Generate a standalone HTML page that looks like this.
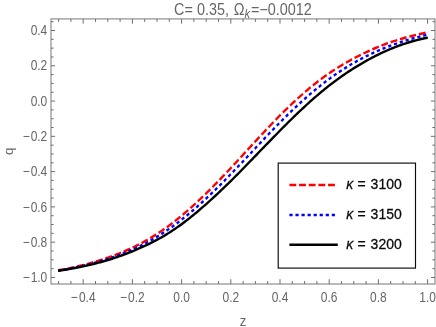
<!DOCTYPE html>
<html><head><meta charset="utf-8"><title>plot</title>
<style>
html,body{margin:0;padding:0;background:#fff;}
body{width:436px;height:327px;overflow:hidden;}
svg{display:block;font-family:"Liberation Sans",sans-serif;will-change:transform;transform:translateZ(0);}
</style></head><body>
<svg width="436" height="327" viewBox="0 0 436 327">
<g transform="scale(1 1.117)">
<g fill="none" stroke-linejoin="round" stroke-width="2.2">
<path d="M58.10 242.06 L59.79 241.78 L61.48 241.51 L63.16 241.22 L64.85 240.93 L66.54 240.63 L68.23 240.32 L69.92 240.01 L71.61 239.69 L73.29 239.36 L74.98 239.02 L76.67 238.67 L78.36 238.32 L80.05 237.96 L81.73 237.59 L83.42 237.21 L85.11 236.82 L86.80 236.43 L88.49 236.02 L90.17 235.61 L91.86 235.19 L93.55 234.75 L95.24 234.31 L96.93 233.86 L98.62 233.40 L100.30 232.92 L101.99 232.44 L103.68 231.95 L105.37 231.44 L107.06 230.93 L108.74 230.40 L110.43 229.87 L112.12 229.32 L113.81 228.76 L115.50 228.19 L117.18 227.60 L118.87 227.01 L120.56 226.40 L122.25 225.77 L123.94 225.14 L125.63 224.49 L127.31 223.82 L129.00 223.14 L130.69 222.45 L132.38 221.74 L134.07 221.02 L135.75 220.28 L137.44 219.52 L139.13 218.75 L140.82 217.95 L142.51 217.15 L144.19 216.32 L145.88 215.48 L147.57 214.61 L149.26 213.73 L150.95 212.83 L152.64 211.91 L154.32 210.97 L156.01 210.01 L157.70 209.04 L159.39 208.04 L161.08 207.02 L162.76 205.98 L164.45 204.93 L166.14 203.85 L167.83 202.76 L169.52 201.64 L171.20 200.51 L172.89 199.35 L174.58 198.18 L176.27 196.99 L177.96 195.78 L179.65 194.55 L181.33 193.31 L183.02 192.05 L184.71 190.77 L186.40 189.47 L188.09 188.16 L189.77 186.83 L191.46 185.48 L193.15 184.12 L194.84 182.74 L196.53 181.35 L198.21 179.94 L199.90 178.52 L201.59 177.09 L203.28 175.64 L204.97 174.17 L206.66 172.70 L208.34 171.21 L210.03 169.71 L211.72 168.19 L213.41 166.67 L215.10 165.13 L216.78 163.59 L218.47 162.03 L220.16 160.46 L221.85 158.89 L223.54 157.30 L225.22 155.71 L226.91 154.11 L228.60 152.50 L230.29 150.89 L231.98 149.27 L233.67 147.64 L235.35 146.01 L237.04 144.38 L238.73 142.74 L240.42 141.10 L242.11 139.46 L243.79 137.81 L245.48 136.16 L247.17 134.52 L248.86 132.87 L250.55 131.23 L252.23 129.59 L253.92 127.94 L255.61 126.31 L257.30 124.67 L258.99 123.04 L260.68 121.42 L262.36 119.80 L264.05 118.19 L265.74 116.58 L267.43 114.98 L269.12 113.39 L270.80 111.81 L272.49 110.23 L274.18 108.67 L275.87 107.12 L277.56 105.57 L279.24 104.04 L280.93 102.52 L282.62 101.01 L284.31 99.52 L286.00 98.04 L287.69 96.57 L289.37 95.11 L291.06 93.67 L292.75 92.25 L294.44 90.84 L296.13 89.44 L297.81 88.06 L299.50 86.70 L301.19 85.35 L302.88 84.02 L304.57 82.70 L306.25 81.41 L307.94 80.13 L309.63 78.86 L311.32 77.62 L313.01 76.39 L314.70 75.18 L316.38 73.99 L318.07 72.82 L319.76 71.67 L321.45 70.54 L323.14 69.42 L324.82 68.32 L326.51 67.25 L328.20 66.19 L329.89 65.15 L331.58 64.13 L333.26 63.13 L334.95 62.14 L336.64 61.18 L338.33 60.23 L340.02 59.30 L341.71 58.38 L343.39 57.48 L345.08 56.60 L346.77 55.73 L348.46 54.87 L350.15 54.03 L351.83 53.21 L353.52 52.39 L355.21 51.59 L356.90 50.80 L358.59 50.03 L360.27 49.27 L361.96 48.52 L363.65 47.78 L365.34 47.06 L367.03 46.35 L368.72 45.65 L370.40 44.96 L372.09 44.29 L373.78 43.63 L375.47 42.99 L377.16 42.36 L378.84 41.74 L380.53 41.14 L382.22 40.55 L383.91 39.98 L385.60 39.41 L387.28 38.87 L388.97 38.33 L390.66 37.81 L392.35 37.30 L394.04 36.80 L395.73 36.31 L397.41 35.84 L399.10 35.37 L400.79 34.92 L402.48 34.48 L404.17 34.05 L405.85 33.63 L407.54 33.21 L409.23 32.81 L410.92 32.42 L412.61 32.04 L414.29 31.66 L415.98 31.30 L417.67 30.94 L419.36 30.59 L421.05 30.25 L422.74 29.92 L424.42 29.59 L426.11 29.27 L427.80 28.96" stroke="#ff0000" stroke-dasharray="6.86 2.83"/>
<path d="M58.10 242.35 L59.79 242.10 L61.48 241.84 L63.16 241.57 L64.85 241.30 L66.54 241.02 L68.23 240.73 L69.92 240.44 L71.61 240.14 L73.29 239.83 L74.98 239.52 L76.67 239.20 L78.36 238.87 L80.05 238.53 L81.73 238.19 L83.42 237.83 L85.11 237.47 L86.80 237.10 L88.49 236.73 L90.17 236.34 L91.86 235.95 L93.55 235.54 L95.24 235.13 L96.93 234.71 L98.62 234.28 L100.30 233.84 L101.99 233.39 L103.68 232.93 L105.37 232.46 L107.06 231.99 L108.74 231.50 L110.43 231.00 L112.12 230.49 L113.81 229.97 L115.50 229.44 L117.18 228.89 L118.87 228.34 L120.56 227.77 L122.25 227.19 L123.94 226.60 L125.63 226.00 L127.31 225.38 L129.00 224.75 L130.69 224.10 L132.38 223.44 L134.07 222.77 L135.75 222.08 L137.44 221.37 L139.13 220.65 L140.82 219.91 L142.51 219.16 L144.19 218.39 L145.88 217.60 L147.57 216.80 L149.26 215.98 L150.95 215.13 L152.64 214.28 L154.32 213.40 L156.01 212.50 L157.70 211.59 L159.39 210.65 L161.08 209.70 L162.76 208.73 L164.45 207.74 L166.14 206.73 L167.83 205.70 L169.52 204.65 L171.20 203.59 L172.89 202.51 L174.58 201.40 L176.27 200.28 L177.96 199.15 L179.65 197.99 L181.33 196.82 L183.02 195.63 L184.71 194.42 L186.40 193.20 L188.09 191.96 L189.77 190.70 L191.46 189.43 L193.15 188.14 L194.84 186.84 L196.53 185.52 L198.21 184.19 L199.90 182.84 L201.59 181.47 L203.28 180.10 L204.97 178.71 L206.66 177.30 L208.34 175.88 L210.03 174.45 L211.72 173.01 L213.41 171.55 L215.10 170.09 L216.78 168.61 L218.47 167.12 L220.16 165.62 L221.85 164.10 L223.54 162.58 L225.22 161.05 L226.91 159.51 L228.60 157.96 L230.29 156.40 L231.98 154.84 L233.67 153.27 L235.35 151.69 L237.04 150.11 L238.73 148.52 L240.42 146.92 L242.11 145.32 L243.79 143.72 L245.48 142.12 L247.17 140.51 L248.86 138.90 L250.55 137.29 L252.23 135.68 L253.92 134.06 L255.61 132.45 L257.30 130.84 L258.99 129.24 L260.68 127.63 L262.36 126.03 L264.05 124.43 L265.74 122.84 L267.43 121.25 L269.12 119.66 L270.80 118.09 L272.49 116.52 L274.18 114.95 L275.87 113.40 L277.56 111.85 L279.24 110.31 L280.93 108.78 L282.62 107.26 L284.31 105.76 L286.00 104.26 L287.69 102.77 L289.37 101.30 L291.06 99.83 L292.75 98.38 L294.44 96.95 L296.13 95.52 L297.81 94.11 L299.50 92.71 L301.19 91.33 L302.88 89.96 L304.57 88.61 L306.25 87.27 L307.94 85.95 L309.63 84.64 L311.32 83.35 L313.01 82.08 L314.70 80.82 L316.38 79.57 L318.07 78.35 L319.76 77.13 L321.45 75.94 L323.14 74.76 L324.82 73.60 L326.51 72.46 L328.20 71.33 L329.89 70.22 L331.58 69.13 L333.26 68.05 L334.95 66.99 L336.64 65.95 L338.33 64.93 L340.02 63.92 L341.71 62.92 L343.39 61.95 L345.08 60.99 L346.77 60.05 L348.46 59.12 L350.15 58.21 L351.83 57.32 L353.52 56.44 L355.21 55.58 L356.90 54.73 L358.59 53.90 L360.27 53.08 L361.96 52.28 L363.65 51.50 L365.34 50.73 L367.03 49.97 L368.72 49.23 L370.40 48.50 L372.09 47.79 L373.78 47.09 L375.47 46.41 L377.16 45.74 L378.84 45.08 L380.53 44.44 L382.22 43.81 L383.91 43.19 L385.60 42.58 L387.28 41.99 L388.97 41.41 L390.66 40.84 L392.35 40.28 L394.04 39.74 L395.73 39.21 L397.41 38.68 L399.10 38.17 L400.79 37.67 L402.48 37.18 L404.17 36.70 L405.85 36.24 L407.54 35.78 L409.23 35.33 L410.92 34.89 L412.61 34.46 L414.29 34.04 L415.98 33.63 L417.67 33.23 L419.36 32.84 L421.05 32.45 L422.74 32.08 L424.42 31.71 L426.11 31.35 L427.80 31.00" stroke="#0000ff" stroke-dasharray="3.2 2.85"/>
<path d="M58.10 242.43 L59.79 242.20 L61.48 241.97 L63.16 241.73 L64.85 241.49 L66.54 241.24 L68.23 240.99 L69.92 240.73 L71.61 240.46 L73.29 240.18 L74.98 239.90 L76.67 239.61 L78.36 239.31 L80.05 239.01 L81.73 238.70 L83.42 238.38 L85.11 238.05 L86.80 237.72 L88.49 237.37 L90.17 237.02 L91.86 236.66 L93.55 236.29 L95.24 235.91 L96.93 235.53 L98.62 235.13 L100.30 234.72 L101.99 234.31 L103.68 233.88 L105.37 233.44 L107.06 233.00 L108.74 232.54 L110.43 232.07 L112.12 231.60 L113.81 231.11 L115.50 230.61 L117.18 230.10 L118.87 229.58 L120.56 229.05 L122.25 228.50 L123.94 227.95 L125.63 227.38 L127.31 226.81 L129.00 226.22 L130.69 225.62 L132.38 225.01 L134.07 224.39 L135.75 223.75 L137.44 223.11 L139.13 222.45 L140.82 221.78 L142.51 221.10 L144.19 220.41 L145.88 219.70 L147.57 218.98 L149.26 218.25 L150.95 217.50 L152.64 216.74 L154.32 215.96 L156.01 215.16 L157.70 214.35 L159.39 213.52 L161.08 212.67 L162.76 211.81 L164.45 210.92 L166.14 210.01 L167.83 209.08 L169.52 208.13 L171.20 207.16 L172.89 206.17 L174.58 205.15 L176.27 204.12 L177.96 203.06 L179.65 201.98 L181.33 200.88 L183.02 199.76 L184.71 198.62 L186.40 197.46 L188.09 196.29 L189.77 195.09 L191.46 193.88 L193.15 192.65 L194.84 191.41 L196.53 190.16 L198.21 188.88 L199.90 187.60 L201.59 186.30 L203.28 184.99 L204.97 183.67 L206.66 182.33 L208.34 180.98 L210.03 179.62 L211.72 178.25 L213.41 176.87 L215.10 175.48 L216.78 174.07 L218.47 172.66 L220.16 171.23 L221.85 169.79 L223.54 168.35 L225.22 166.89 L226.91 165.43 L228.60 163.95 L230.29 162.47 L231.98 160.97 L233.67 159.47 L235.35 157.97 L237.04 156.45 L238.73 154.93 L240.42 153.40 L242.11 151.86 L243.79 150.32 L245.48 148.77 L247.17 147.22 L248.86 145.67 L250.55 144.11 L252.23 142.55 L253.92 140.98 L255.61 139.42 L257.30 137.85 L258.99 136.28 L260.68 134.71 L262.36 133.14 L264.05 131.58 L265.74 130.01 L267.43 128.45 L269.12 126.88 L270.80 125.32 L272.49 123.77 L274.18 122.22 L275.87 120.67 L277.56 119.13 L279.24 117.59 L280.93 116.06 L282.62 114.53 L284.31 113.02 L286.00 111.51 L287.69 110.00 L289.37 108.51 L291.06 107.03 L292.75 105.55 L294.44 104.08 L296.13 102.63 L297.81 101.18 L299.50 99.74 L301.19 98.32 L302.88 96.91 L304.57 95.51 L306.25 94.12 L307.94 92.74 L309.63 91.38 L311.32 90.03 L313.01 88.69 L314.70 87.37 L316.38 86.06 L318.07 84.76 L319.76 83.48 L321.45 82.22 L323.14 80.97 L324.82 79.73 L326.51 78.51 L328.20 77.31 L329.89 76.12 L331.58 74.95 L333.26 73.80 L334.95 72.66 L336.64 71.54 L338.33 70.44 L340.02 69.35 L341.71 68.28 L343.39 67.23 L345.08 66.19 L346.77 65.17 L348.46 64.17 L350.15 63.18 L351.83 62.21 L353.52 61.25 L355.21 60.31 L356.90 59.38 L358.59 58.47 L360.27 57.57 L361.96 56.69 L363.65 55.82 L365.34 54.96 L367.03 54.11 L368.72 53.28 L370.40 52.47 L372.09 51.66 L373.78 50.88 L375.47 50.10 L377.16 49.34 L378.84 48.60 L380.53 47.86 L382.22 47.15 L383.91 46.45 L385.60 45.76 L387.28 45.09 L388.97 44.44 L390.66 43.80 L392.35 43.18 L394.04 42.58 L395.73 41.99 L397.41 41.41 L399.10 40.85 L400.79 40.31 L402.48 39.79 L404.17 39.27 L405.85 38.78 L407.54 38.30 L409.23 37.83 L410.92 37.38 L412.61 36.94 L414.29 36.52 L415.98 36.11 L417.67 35.72 L419.36 35.34 L421.05 34.98 L422.74 34.63 L424.42 34.29 L426.11 33.96 L427.80 33.65" stroke="#000"/>
</g>
</g>
<g stroke="#6e6e6e" stroke-width="1" fill="none">
<rect x="51.0" y="18.9" width="384.0" height="265.1" stroke="#8a8a8a" stroke-width="1.15"/>
<path d="M58.60 284.0 V281.00 M58.60 18.9 V21.90"/>
<path d="M70.90 284.0 V281.00 M70.90 18.9 V21.90"/>
<path d="M83.20 284.0 V279.20 M83.20 18.9 V23.70"/>
<path d="M95.50 284.0 V281.00 M95.50 18.9 V21.90"/>
<path d="M107.80 284.0 V281.00 M107.80 18.9 V21.90"/>
<path d="M120.10 284.0 V281.00 M120.10 18.9 V21.90"/>
<path d="M132.40 284.0 V279.20 M132.40 18.9 V23.70"/>
<path d="M144.70 284.0 V281.00 M144.70 18.9 V21.90"/>
<path d="M157.00 284.0 V281.00 M157.00 18.9 V21.90"/>
<path d="M169.30 284.0 V281.00 M169.30 18.9 V21.90"/>
<path d="M181.60 284.0 V279.20 M181.60 18.9 V23.70"/>
<path d="M193.90 284.0 V281.00 M193.90 18.9 V21.90"/>
<path d="M206.20 284.0 V281.00 M206.20 18.9 V21.90"/>
<path d="M218.50 284.0 V281.00 M218.50 18.9 V21.90"/>
<path d="M230.80 284.0 V279.20 M230.80 18.9 V23.70"/>
<path d="M243.10 284.0 V281.00 M243.10 18.9 V21.90"/>
<path d="M255.40 284.0 V281.00 M255.40 18.9 V21.90"/>
<path d="M267.70 284.0 V281.00 M267.70 18.9 V21.90"/>
<path d="M280.00 284.0 V279.20 M280.00 18.9 V23.70"/>
<path d="M292.30 284.0 V281.00 M292.30 18.9 V21.90"/>
<path d="M304.60 284.0 V281.00 M304.60 18.9 V21.90"/>
<path d="M316.90 284.0 V281.00 M316.90 18.9 V21.90"/>
<path d="M329.20 284.0 V279.20 M329.20 18.9 V23.70"/>
<path d="M341.50 284.0 V281.00 M341.50 18.9 V21.90"/>
<path d="M353.80 284.0 V281.00 M353.80 18.9 V21.90"/>
<path d="M366.10 284.0 V281.00 M366.10 18.9 V21.90"/>
<path d="M378.40 284.0 V279.20 M378.40 18.9 V23.70"/>
<path d="M390.70 284.0 V281.00 M390.70 18.9 V21.90"/>
<path d="M403.00 284.0 V281.00 M403.00 18.9 V21.90"/>
<path d="M415.30 284.0 V281.00 M415.30 18.9 V21.90"/>
<path d="M427.60 284.0 V279.20 M427.60 18.9 V23.70"/>
<path d="M51.0 277.46 H55.10 M435.0 277.46 H430.90"/>
<path d="M51.0 268.64 H53.60 M435.0 268.64 H432.40"/>
<path d="M51.0 259.82 H53.60 M435.0 259.82 H432.40"/>
<path d="M51.0 251.00 H53.60 M435.0 251.00 H432.40"/>
<path d="M51.0 242.18 H55.10 M435.0 242.18 H430.90"/>
<path d="M51.0 233.36 H53.60 M435.0 233.36 H432.40"/>
<path d="M51.0 224.54 H53.60 M435.0 224.54 H432.40"/>
<path d="M51.0 215.72 H53.60 M435.0 215.72 H432.40"/>
<path d="M51.0 206.90 H55.10 M435.0 206.90 H430.90"/>
<path d="M51.0 198.08 H53.60 M435.0 198.08 H432.40"/>
<path d="M51.0 189.26 H53.60 M435.0 189.26 H432.40"/>
<path d="M51.0 180.44 H53.60 M435.0 180.44 H432.40"/>
<path d="M51.0 171.62 H55.10 M435.0 171.62 H430.90"/>
<path d="M51.0 162.80 H53.60 M435.0 162.80 H432.40"/>
<path d="M51.0 153.98 H53.60 M435.0 153.98 H432.40"/>
<path d="M51.0 145.16 H53.60 M435.0 145.16 H432.40"/>
<path d="M51.0 136.34 H55.10 M435.0 136.34 H430.90"/>
<path d="M51.0 127.52 H53.60 M435.0 127.52 H432.40"/>
<path d="M51.0 118.70 H53.60 M435.0 118.70 H432.40"/>
<path d="M51.0 109.88 H53.60 M435.0 109.88 H432.40"/>
<path d="M51.0 101.06 H55.10 M435.0 101.06 H430.90"/>
<path d="M51.0 92.24 H53.60 M435.0 92.24 H432.40"/>
<path d="M51.0 83.42 H53.60 M435.0 83.42 H432.40"/>
<path d="M51.0 74.60 H53.60 M435.0 74.60 H432.40"/>
<path d="M51.0 65.78 H55.10 M435.0 65.78 H430.90"/>
<path d="M51.0 56.96 H53.60 M435.0 56.96 H432.40"/>
<path d="M51.0 48.14 H53.60 M435.0 48.14 H432.40"/>
<path d="M51.0 39.32 H53.60 M435.0 39.32 H432.40"/>
<path d="M51.0 30.50 H55.10 M435.0 30.50 H430.90"/>
<path d="M51.0 21.68 H53.60 M435.0 21.68 H432.40"/>
</g>
<rect x="278.2" y="163.1" width="137.3" height="105" fill="#fff" stroke="#0a0a0a" stroke-width="1.15"/>
<g transform="scale(1 1.117)">
<g fill="#666">
<text transform="translate(83.20 270.37) scale(1 1.07)" font-size="12.0" text-anchor="middle">−<tspan dx="1">0.4</tspan></text>
<text transform="translate(132.40 270.37) scale(1 1.07)" font-size="12.0" text-anchor="middle">−<tspan dx="1">0.2</tspan></text>
<text transform="translate(181.60 270.37) scale(1 1.07)" font-size="12.0" text-anchor="middle">0.0</text>
<text transform="translate(230.80 270.37) scale(1 1.07)" font-size="12.0" text-anchor="middle">0.2</text>
<text transform="translate(280.00 270.37) scale(1 1.07)" font-size="12.0" text-anchor="middle">0.4</text>
<text transform="translate(329.20 270.37) scale(1 1.07)" font-size="12.0" text-anchor="middle">0.6</text>
<text transform="translate(378.40 270.37) scale(1 1.07)" font-size="12.0" text-anchor="middle">0.8</text>
<text transform="translate(427.60 270.37) scale(1 1.07)" font-size="12.0" text-anchor="middle">1.0</text>
<text transform="translate(47.30 31.51) scale(1 1.05)" font-size="12.0" text-anchor="end">0.4</text>
<text transform="translate(47.30 63.10) scale(1 1.05)" font-size="12.0" text-anchor="end">0.2</text>
<text transform="translate(47.30 94.68) scale(1 1.05)" font-size="12.0" text-anchor="end">0.0</text>
<text transform="translate(47.30 126.27) scale(1 1.05)" font-size="12.0" text-anchor="end">−<tspan dx="1">0.2</tspan></text>
<text transform="translate(47.30 157.85) scale(1 1.05)" font-size="12.0" text-anchor="end">−<tspan dx="1">0.4</tspan></text>
<text transform="translate(47.30 189.44) scale(1 1.05)" font-size="12.0" text-anchor="end">−<tspan dx="1">0.6</tspan></text>
<text transform="translate(47.30 221.02) scale(1 1.05)" font-size="12.0" text-anchor="end">−<tspan dx="1">0.8</tspan></text>
<text transform="translate(47.30 252.61) scale(1 1.05)" font-size="12.0" text-anchor="end">−<tspan dx="1">1.0</tspan></text>
<text x="243.10" y="291.50" font-size="13" text-anchor="middle">z</text>
<text transform="translate(13.3 135.54) rotate(-90)" font-size="12.0" text-anchor="middle">q</text>
<text x="174.10" y="13.16" font-size="14.4">C=</text>
<text x="197.00" y="13.16" font-size="14.4">0.35,</text>
<text x="233.70" y="13.16" font-size="14.4">Ω</text>
<text x="244.40" y="16.20" font-size="11.2" font-style="italic">k</text>
<text x="251.00" y="13.16" font-size="14.4">=−0.0012</text>
</g>
<g fill="none" stroke-width="2.2">
<path d="M289.4 165.71 H337.8" stroke="#ff0000" stroke-dasharray="6.85 2.82"/>
<path d="M289.4 192.48 H337.8" stroke="#0000ff" stroke-dasharray="3.2 2.85"/>
<path d="M289.4 219.16 H337.8" stroke="#000"/>
</g>
<g fill="#0a0a0a" stroke="#0a0a0a" stroke-width="0.25">
<text transform="translate(346.20 169.65) scale(1 0.97)" font-size="14" font-style="italic">κ</text><text transform="translate(357.50 169.65) scale(1 0.97)" font-size="14">=</text><text transform="translate(370.60 169.65) scale(1 0.97)" font-size="14">3100</text>
<text transform="translate(346.20 196.06) scale(1 0.97)" font-size="14" font-style="italic">κ</text><text transform="translate(357.50 196.06) scale(1 0.97)" font-size="14">=</text><text transform="translate(370.60 196.06) scale(1 0.97)" font-size="14">3150</text>
<text transform="translate(346.20 222.74) scale(1 0.97)" font-size="14" font-style="italic">κ</text><text transform="translate(357.50 222.74) scale(1 0.97)" font-size="14">=</text><text transform="translate(370.60 222.74) scale(1 0.97)" font-size="14">3200</text>
</g>
</g>
</svg>
</body></html>
